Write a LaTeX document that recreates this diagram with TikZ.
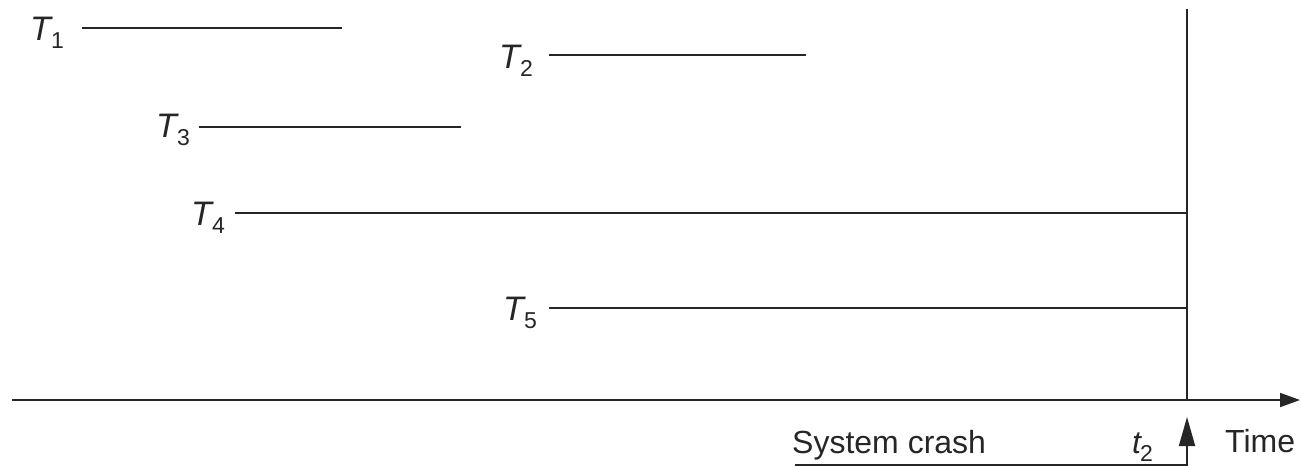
\documentclass[tikz,border=0pt]{standalone}
\usepackage{fontspec}
\setmainfont{Liberation Sans}
\usetikzlibrary{arrows.meta}
\newcommand\Tsub[2]{\textit{#1}\kern-2pt\raisebox{-8pt}{\fontsize{23}{25}\selectfont #2}}
\begin{document}
\begin{tikzpicture}[x=1pt,y=-1pt,
  ln/.style={line width=1.8pt,draw=black!85},
  lbl/.style={inner sep=0pt,font=\fontsize{32}{38}\selectfont,text=black!85},
  tlbl/.style={lbl,font=\fontsize{34}{40}\selectfont},
  tip/.style={-{Triangle[length=20pt,width=14pt]}},
  uptip/.style={-{Triangle[length=29pt,width=16pt]}}]
\useasboundingbox (0,0) rectangle (1301,467);
% transaction lines
\coordinate (t1s) at (82,28);  \coordinate (t1e) at (342,28);
\coordinate (t2s) at (549,55); \coordinate (t2e) at (806,55);
\coordinate (t3s) at (199,127); \coordinate (t3e) at (461,127);
\coordinate (t4s) at (235,213); \coordinate (t4e) at (1187,213);
\coordinate (t5s) at (549,308); \coordinate (t5e) at (1187,308);
\draw[ln] (t1s) -- (t1e);
\draw[ln] (t2s) -- (t2e);
\draw[ln] (t3s) -- (t3e);
\draw[ln] (t4s) -- (t4e);
\draw[ln] (t5s) -- (t5e);
% labels
\node[tlbl,anchor=base east] (T1) at (64,40) {\Tsub{T}{1}};
\node[tlbl,anchor=base east] (T2) at (533,68) {\Tsub{T}{2}};
\node[tlbl,anchor=base east] (T3) at (190,137) {\Tsub{T}{3}};
\node[tlbl,anchor=base east] (T4) at (225,225) {\Tsub{T}{4}};
\node[tlbl,anchor=base east] (T5) at (537,320) {\Tsub{T}{5}};
% axis
\coordinate (ax0) at (12,400); \coordinate (ax1) at (1300,400);
\draw[ln,tip] (ax0) -- (ax1);
% crash vertical line
\coordinate (ctop) at (1187,9); \coordinate (cbot) at (1187,400);
\draw[ln] (ctop) -- (cbot);
% system crash pointer
\coordinate (sc0) at (795,465); \coordinate (sc1) at (1187,465); \coordinate (sc2) at (1187,417);
\draw[ln,uptip] (sc0) -- (sc1) -- (sc2);
\node[lbl,anchor=base west] (sys) at (792,453) {System crash};
\node[lbl,anchor=base east] (t2) at (1153,453) {\Tsub{t}{2}};
\node[lbl,anchor=base west] (time) at (1225,452) {Time};
\end{tikzpicture}
\end{document}
